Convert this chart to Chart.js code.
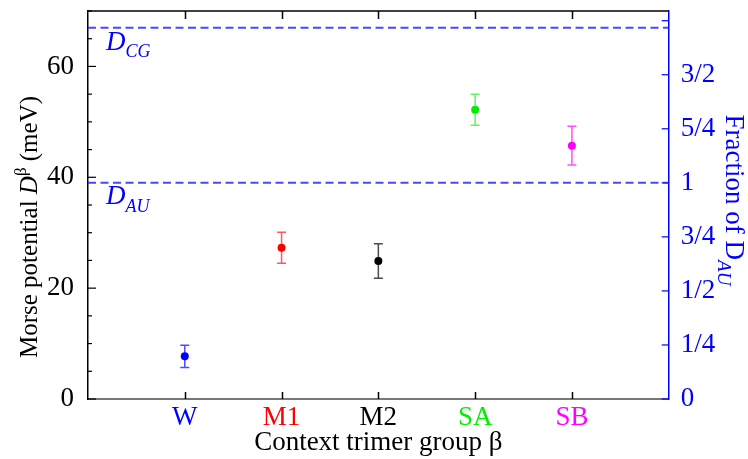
<!DOCTYPE html>
<html>
<head>
<meta charset="utf-8">
<script src="https://cdn.jsdelivr.net/npm/chart.js@4/dist/chart.umd.min.js"></script>
<style>
  html, body { margin: 0; padding: 0; background: #fff; }
  canvas { display: block; }
</style>
</head>
<body>
<canvas id="morseChart" width="748" height="459"></canvas>
<script>
// categories and values
const groups = ['W', 'M1', 'M2', 'SA', 'SB'];
const groupColors = ['#0000ff', '#ff0000', '#000000', '#00ee00', '#ff00ff'];
const barColors = ['rgba(0,0,255,0.7)', 'rgba(255,0,0,0.65)', 'rgba(0,0,0,0.7)', 'rgba(0,230,0,0.6)', 'rgba(255,0,255,0.7)'];
const morseValues = [7.7, 27.3, 24.9, 52.2, 45.7];
const morseErrors = [2.0, 2.8, 3.1, 2.8, 3.5];

// reference levels (meV)
const dAU = 39.0;
const dCG = 67.0;

// axis ranges and tick labels
const yMax = 70;
const leftTickLabels = [0, 20, 40, 60];
const fracLabels = ['0', '1/4', '1/2', '3/4', '1', '5/4', '3/2', ''];

const serif = "'Liberation Serif', 'Times New Roman', serif";
const blue = '#0000ff';
const lineBlue = 'rgba(40,40,255,0.85)';

// fix the size of each axis box so the plot area lands where it should
function fixBox(size) {
  return (scale) => {
    if (scale.isHorizontal()) {
      scale.height = size;
      scale.paddingLeft = 0;
      scale.paddingRight = 0;
    } else {
      scale.width = size;
      scale.paddingTop = 0;
      scale.paddingBottom = 0;
    }
  };
}

// draws text made of pieces with different styles (italic, sub/superscript)
function drawRich(ctx, pieces, x, y, align) {
  let total = 0;
  pieces.forEach(p => {
    ctx.font = p.font;
    p.w = ctx.measureText(p.text).width;
    total += p.w;
  });
  let cx = align === 'center' ? x - total / 2 : x;
  pieces.forEach(p => {
    ctx.font = p.font;
    ctx.fillStyle = p.color;
    ctx.textAlign = 'left';
    ctx.textBaseline = 'alphabetic';
    ctx.fillText(p.text, cx, y + (p.dy || 0));
    cx += p.w;
  });
}

const decorPlugin = {
  id: 'decor',
  beforeDatasetsDraw(chart) {
    const ctx = chart.ctx;
    const xs = chart.scales.x;
    const ys = chart.scales.y;
    const area = chart.chartArea;
    ctx.save();

    // top frame line
    ctx.strokeStyle = '#000';
    ctx.lineWidth = 1.5;
    ctx.beginPath();
    ctx.moveTo(area.left, area.top);
    ctx.lineTo(area.right, area.top);
    ctx.stroke();

    // inward ticks on the category axis (bottom and top)
    groups.forEach((g, i) => {
      const px = Math.round(xs.getPixelForValue(i + 1)) + 0.5;
      ctx.strokeStyle = '#000';
      ctx.lineWidth = 1.5;
      ctx.beginPath();
      ctx.moveTo(px, area.bottom);
      ctx.lineTo(px, area.bottom - 7);
      ctx.moveTo(px, area.top);
      ctx.lineTo(px, area.top + 8);
      ctx.stroke();
    });

    // left ticks every 5 meV, longer on labelled values
    for (let v = 0; v <= yMax; v += 5) {
      const py = ys.getPixelForValue(v);
      const len = v % 20 === 0 ? 8 : 4;
      ctx.strokeStyle = '#000';
      ctx.lineWidth = 1.2;
      ctx.beginPath();
      ctx.moveTo(area.left, py);
      ctx.lineTo(area.left + len, py);
      ctx.stroke();
    }

    // right ticks every quarter of D_AU
    const y2 = chart.scales.y2;
    for (let f = 0; f <= yMax / dAU; f += 0.25) {
      const py = y2.getPixelForValue(f);
      ctx.strokeStyle = blue;
      ctx.lineWidth = 1.2;
      ctx.beginPath();
      ctx.moveTo(area.right, py);
      ctx.lineTo(area.right - 7, py);
      ctx.stroke();
    }

    // error bars
    morseValues.forEach((v, i) => {
      const px = xs.getPixelForValue(i + 1);
      const top = ys.getPixelForValue(v + morseErrors[i]);
      const bot = ys.getPixelForValue(v - morseErrors[i]);
      ctx.strokeStyle = barColors[i];
      ctx.lineWidth = 1.5;
      ctx.beginPath();
      ctx.moveTo(px, top);
      ctx.lineTo(px, bot);
      ctx.moveTo(px - 4.5, top);
      ctx.lineTo(px + 4.5, top);
      ctx.moveTo(px - 4.5, bot);
      ctx.lineTo(px + 4.5, bot);
      ctx.stroke();
    });
    ctx.restore();
  },
  afterDraw(chart) {
    const ctx = chart.ctx;
    const ys = chart.scales.y;
    const area = chart.chartArea;
    const it = 'italic 27px ' + serif;
    const itSub = 'italic 18px ' + serif;
    const rm = '27px ' + serif;
    ctx.save();

    // labels under the dashed reference lines
    drawRich(ctx, [
      { text: 'D', font: it, color: blue },
      { text: 'CG', font: itSub, color: blue, dy: 7 }
    ], area.left + 18, ys.getPixelForValue(dCG) + 22, 'left');
    drawRich(ctx, [
      { text: 'D', font: it, color: blue },
      { text: 'AU', font: itSub, color: blue, dy: 8 }
    ], area.left + 18, ys.getPixelForValue(dAU) + 21, 'left');

    // x axis title
    drawRich(ctx, [
      { text: 'Context trimer group \u03b2', font: rm, color: '#000' }
    ], (area.left + area.right) / 2, 450, 'center');

    // left axis title
    ctx.save();
    ctx.translate(37, 227);
    ctx.rotate(-Math.PI / 2);
    drawRich(ctx, [
      { text: 'Morse potential ', font: '25px ' + serif, color: '#000' },
      { text: 'D', font: 'italic 25px ' + serif, color: '#000' },
      { text: '\u03b2', font: '17px ' + serif, color: '#000', dy: -11 },
      { text: ' (meV)', font: '25px ' + serif, color: '#000' }
    ], 0, 0, 'center');
    ctx.restore();

    // right axis title
    ctx.save();
    ctx.translate(726, 200);
    ctx.rotate(Math.PI / 2);
    drawRich(ctx, [
      { text: 'Fraction of D', font: rm, color: blue },
      { text: 'AU', font: 'italic 19px ' + serif, color: blue, dy: 8 }
    ], 0, 0, 'center');
    ctx.restore();

    ctx.restore();
  }
};

const points = morseValues.map((v, i) => ({ x: i + 1, y: v }));

new Chart(document.getElementById('morseChart'), {
  type: 'scatter',
  data: {
    datasets: [
      {
        data: points,
        pointRadius: 4,
        pointHoverRadius: 4,
        pointBackgroundColor: groupColors,
        pointBorderColor: groupColors,
        pointBorderWidth: 0,
        showLine: false
      },
      {
        type: 'line',
        data: [{ x: 0, y: dCG }, { x: groups.length + 1, y: dCG }],
        borderColor: lineBlue,
        borderWidth: 2,
        borderDash: [8, 4.5],
        pointRadius: 0
      },
      {
        type: 'line',
        data: [{ x: 0, y: dAU }, { x: groups.length + 1, y: dAU }],
        borderColor: lineBlue,
        borderWidth: 2,
        borderDash: [8, 4.5],
        pointRadius: 0
      }
    ]
  },
  options: {
    responsive: false,
    animation: false,
    devicePixelRatio: 1,
    layout: { padding: { top: 11, left: 0, right: 0, bottom: 0 } },
    plugins: {
      legend: { display: false },
      tooltip: { enabled: false }
    },
    scales: {
      x: {
        type: 'linear',
        position: 'bottom',
        min: 0,
        max: groups.length + 1,
        afterFit: fixBox(60),
        afterBuildTicks: (scale) => {
          scale.ticks = groups.map((g, i) => ({ value: i + 1 }));
        },
        grid: { drawOnChartArea: false, drawTicks: false },
        border: { display: true, color: '#777', width: 2 },
        ticks: {
          padding: 3,
          autoSkip: false,
          maxRotation: 0,
          font: { family: serif, size: 27 },
          color: (c) => groupColors[c.tick.value - 1] || '#000',
          callback: (v) => groups[v - 1] || ''
        }
      },
      y: {
        position: 'left',
        min: 0,
        max: yMax,
        afterFit: fixBox(88),
        afterBuildTicks: (scale) => {
          scale.ticks = leftTickLabels.map(v => ({ value: v }));
        },
        grid: { drawOnChartArea: false, drawTicks: false },
        border: { display: true, color: '#000', width: 1.5 },
        ticks: {
          padding: 14,
          color: '#000',
          font: { family: serif, size: 27 }
        }
      },
      y2: {
        position: 'right',
        min: 0,
        max: yMax / dAU,
        afterFit: fixBox(748 - 668.7),
        afterBuildTicks: (scale) => {
          scale.ticks = fracLabels.map((l, i) => ({ value: i * 0.25 }));
        },
        grid: { drawOnChartArea: false, drawTicks: false },
        border: { display: true, color: blue, width: 1.5 },
        ticks: {
          padding: 12,
          color: blue,
          font: { family: serif, size: 27 },
          callback: (v, i) => fracLabels[i]
        }
      }
    }
  },
  plugins: [decorPlugin]
});
</script>
</body>
</html>
